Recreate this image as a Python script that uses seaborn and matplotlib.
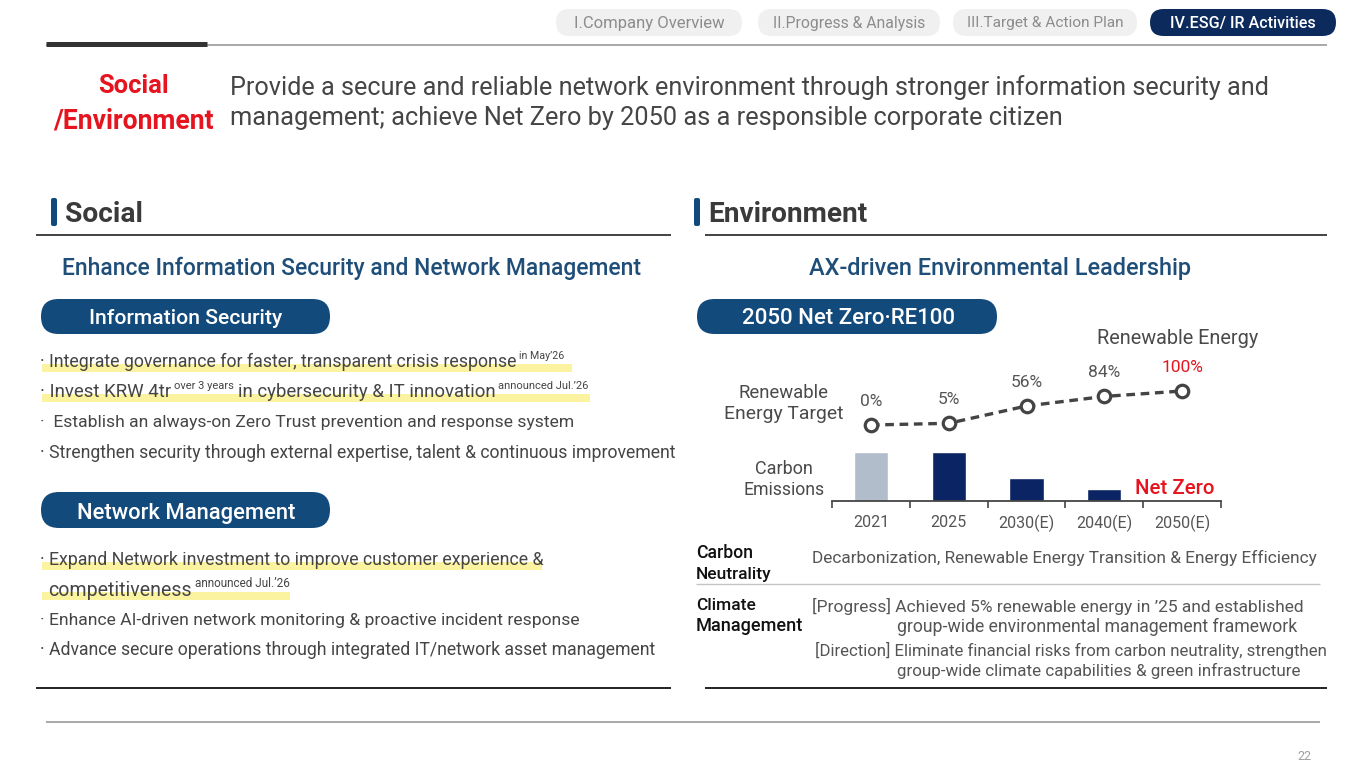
import numpy as np
import pandas as pd
import seaborn as sns
import matplotlib
matplotlib.use('Agg')
import matplotlib.pyplot as plt
from matplotlib.patches import FancyBboxPatch

# ---------------- data ----------------
years = ['2021', '2025', '2030(E)', '2040(E)', '2050(E)']
carbon_index = [100, 100, 47, 24, 0]          # emissions, 2021 = 100
renewable_pct = [0, 5, 56, 84, 100]
renewable_labels = ['0%', '5%', '56%', '84%', '100%']
bar_colors = ['#b1bdcb', '#0b2463', '#0b2463', '#0b2463', '#0b2463']

nav_tabs = ['I.Company Overview', 'II.Progress & Analysis', 'III.Target & Action Plan', 'IV.ESG/ IR Activities']

info_security = [
    [("· Integrate governance for faster, transparent crisis response", False, 0), ("in May\u201926", True, 0.15)],
    [("· Invest KRW 4tr", False, 0), ("over 3 years", True, 0.15),
     ("in cybersecurity & IT innovation", False, 0.2), ("announced Jul.\u201926", True, 0.15)],
    [("·  Establish an always-on Zero Trust prevention and response system", False, 0)],
    [("· Strengthen security through external expertise, talent & continuous improvement", False, 0)],
]
network_mgmt = [
    [("· Expand Network investment to improve customer experience &", False, 0)],
    [("competitiveness", False, 0), ("announced Jul.\u201926", True, 0.15)],
    [("· Enhance AI-driven network monitoring & proactive incident response", False, 0)],
    [("· Advance secure operations through integrated IT/network asset management", False, 0)],
]

sns.set_theme(style='white')
plt.rcParams['font.family'] = ['Roboto', 'DejaVu Sans']

fig = plt.figure(figsize=(13.65, 7.68), dpi=100)
bg = fig.add_axes([0, 0, 1, 1])
bg.set_xlim(0, 1365)
bg.set_ylim(768, 0)
bg.axis('off')
R = fig.canvas.get_renderer()

GREY = '#454545'
BLUE = '#134a7c'
RED = '#e5141f'
DY = 2  # matplotlib centres on the full line box, nudge down a little


def line(x, y, parts, width=None, size=13, color=GREY, weight='normal', ha='left'):
    # draws a text line (with optional superscripts), scaled to a pixel width
    if isinstance(parts, str):
        parts = [(parts, False, 0)]
    y = y + DY

    def render(fs):
        arts = []
        cx = x
        for s, sup, gap in parts:
            cx += gap * fs * 100 / 72
            f = fs * 0.6 if sup else fs
            yy = y - fs * 100 / 72 * 0.33 if sup else y
            t = bg.text(cx, yy, s, fontsize=f, color=color, weight=weight,
                        ha='left', va='center')
            cx += t.get_window_extent(R).width
            arts.append(t)
        return arts, cx - x

    arts, w = render(size)
    if width:
        for a in arts:
            a.remove()
        arts, w = render(size * width / w)
    if ha == 'center':
        for a in arts:
            px, py = a.get_position()
            a.set_position((px - w / 2, py))
    return arts


def pill(x0, y0, x1, y1, color):
    h = y1 - y0
    bg.add_patch(FancyBboxPatch((x0, y0), x1 - x0, h,
                                boxstyle=f'round,pad=0,rounding_size={h / 2}',
                                facecolor=color, edgecolor='none'))


def hline(x0, x1, y, color='#222222', lw=1.2):
    bg.plot([x0, x1], [y, y], color=color, lw=lw, solid_capstyle='butt')


def marker_rect(x0, y0, x1, y1, color, alpha=1.0):
    bg.add_patch(FancyBboxPatch((x0, y0), x1 - x0, y1 - y0, boxstyle='round,pad=0,rounding_size=2',
                                facecolor=color, edgecolor='none', alpha=alpha, zorder=0))


# ---------------- top navigation ----------------
tab_boxes = [(556, 742), (758, 940), (953, 1137), (1150, 1336)]
tab_widths = [150, 151, 156, 145]
for i, (lab, (a, b), tw) in enumerate(zip(nav_tabs, tab_boxes, tab_widths)):
    active = i == 3
    pill(a, 9, b, 36, '#0c2b5c' if active else '#f0f0f0')
    line((a + b) / 2, 21.5, lab, width=tw, size=11, ha='center',
         color='white' if active else '#8c8c8c', weight='medium' if active else 'normal')

hline(46, 1327, 45, color='#9a9a9a', lw=1.2)
hline(46, 207, 43.5, color='#333333', lw=3.6)

# ---------------- headline ----------------
line(133, 84, 'Social', width=71, size=16, color=RED, weight='bold', ha='center')
line(133, 119, '/Environment', width=161, size=16, color=RED, weight='bold', ha='center')
line(230, 86, 'Provide a secure and reliable network environment through stronger information security and',
     width=1043, size=17, color=GREY)
line(230, 116, 'management; achieve Net Zero by 2050 as a responsible corporate citizen',
     width=835, size=17, color=GREY)

# ---------------- section headers ----------------
marker_rect(51, 198, 57, 226, BLUE)
line(65, 212, 'Social', width=78, size=18, color='#3a3a3a', weight='bold')
marker_rect(694, 198, 700, 226, BLUE)
line(708, 212, 'Environment', width=160, size=18, color='#3a3a3a', weight='bold')
hline(36, 671, 235)
hline(705, 1327, 235)

line(352, 266, 'Enhance Information Security and Network Management', width=580, size=15,
     color='#1f4e79', weight='medium', ha='center')
line(1000, 266, 'AX-driven Environmental Leadership', width=383, size=15,
     color='#1f4e79', weight='medium', ha='center')

# ---------------- social side ----------------
pill(41, 299, 330, 334, BLUE)
line(186, 317, 'Information Security', width=194, size=15, color='white', weight='medium', ha='center')
pill(41, 492, 330, 528, BLUE)
line(186, 511, 'Network Management', width=218, size=15, color='white', weight='medium', ha='center')

hl = '#fbf3a0'
bg.add_patch(plt.Rectangle((42, 364), 530, 8, facecolor=hl, edgecolor='none', zorder=0))
bg.add_patch(plt.Rectangle((42, 394), 548, 8, facecolor=hl, edgecolor='none', zorder=0))
bg.add_patch(plt.Rectangle((42, 562), 500, 8, facecolor=hl, edgecolor='none', zorder=0))
bg.add_patch(plt.Rectangle((42, 592), 248, 8, facecolor=hl, edgecolor='none', zorder=0))

for parts, y, w in zip(info_security, [360, 390, 421, 451], [526, 550, 533, 637]):
    line(40, y, parts, width=w, size=13)
for parts, y, x, w in zip(network_mgmt, [558, 588, 618, 648], [40, 48, 40, 40], [502, 242, 538, 617]):
    line(x, y, parts, width=w, size=13)
hline(36, 671, 688, lw=1.4)

# ---------------- environment side ----------------
pill(697, 299, 997, 334, BLUE)
line(848, 317, '2050 Net Zero\u00b7RE100', width=214, size=15, color='white', weight='medium', ha='center')

line(1178, 337, 'Renewable Energy', width=163, size=14, color='#4a4a4a', ha='center')
line(784, 391, 'Renewable', width=90, size=12, color='#4a4a4a', ha='center')
line(784, 412, 'Energy Target', width=119, size=12, color='#4a4a4a', ha='center')
line(784, 467, 'Carbon', width=58, size=12, color='#4a4a4a', ha='center')
line(784, 488, 'Emissions', width=81, size=12, color='#4a4a4a', ha='center')

# chart: bars = carbon emissions, dashed line = renewable energy target
ax = fig.add_axes([832 / 1365, (768 - 501) / 768, (1221 - 832) / 1365, 161 / 768])
ax.set_facecolor('none')
sns.barplot(x=years, y=carbon_index, hue=years, palette=bar_colors, legend=False,
            saturation=1, width=0.44, ax=ax)
ax.set_ylim(0, 328.6)
ax2 = ax.twinx()
sns.lineplot(x=np.arange(len(years)), y=renewable_pct, ax=ax2, color='#444444', lw=2.4,
             linestyle=(0, (2.6, 1.7)), marker='o', markersize=9, markerfacecolor='white',
             markeredgecolor='#444444', markeredgewidth=2.3)
ax2.set_ylim(-223.5, 250)
for i, (v, lab) in enumerate(zip(renewable_pct, renewable_labels)):
    ax2.annotate(lab, (i, v), xytext=(0, 17), textcoords='offset points', ha='center', va='center',
                 fontsize=12.5, color=RED if i == len(years) - 1 else '#555555')
for a in (ax, ax2):
    a.set_xlim(-0.5, len(years) - 0.5)
    a.set_yticks([])
    a.set_ylabel('')
    a.set_xlabel('')
    for s in a.spines.values():
        s.set_visible(False)
ax.spines['bottom'].set_visible(True)
ax.spines['bottom'].set_color('#444444')
ax.spines['bottom'].set_linewidth(1.3)
ax.set_xticks(range(len(years)))
ax.set_xticklabels(years)
ax.set_xticks(np.arange(-0.5, len(years), 1), minor=True)
ax.tick_params(axis='x', which='major', length=0, pad=10, labelsize=11.5, labelcolor='#555555')
ax.tick_params(axis='x', which='minor', bottom=True, length=5, width=1.2, color='#444444', direction='out')

line(1175, 487, 'Net Zero', width=80, size=14, color=RED, weight='medium', ha='center')

# table
line(696, 551, 'Carbon', width=57, size=12, color='#111111', weight='medium')
line(696, 572, 'Neutrality', width=76, size=12, color='#111111', weight='medium')
line(812, 556, 'Decarbonization, Renewable Energy Transition & Energy Efficiency', width=505, size=13, color='#555555')
hline(696, 1320, 584, color='#c4c4c4', lw=1.0)
line(696, 603, 'Climate', width=60, size=12, color='#111111', weight='medium')
line(696, 624, 'Management', width=107, size=12, color='#111111', weight='medium')
line(812, 604, '[Progress] Achieved 5% renewable energy in \u201925 and established', width=494, size=13, color='#555555')
line(897, 625, 'group-wide environmental management framework', width=400, size=13, color='#555555')
line(815, 648, '[Direction] Eliminate financial risks from carbon neutrality, strengthen', width=512, size=13, color='#555555')
line(897, 669, 'group-wide climate capabilities & green infrastructure', width=405, size=13, color='#555555')
hline(705, 1327, 688, lw=1.4)

# footer
hline(46, 1320, 722, color='#9a9a9a', lw=1.2)
bg.text(1304, 756, '22', fontsize=9, color='#a0a0a0', ha='center', va='center')

fig.savefig('out.png', dpi=100)
